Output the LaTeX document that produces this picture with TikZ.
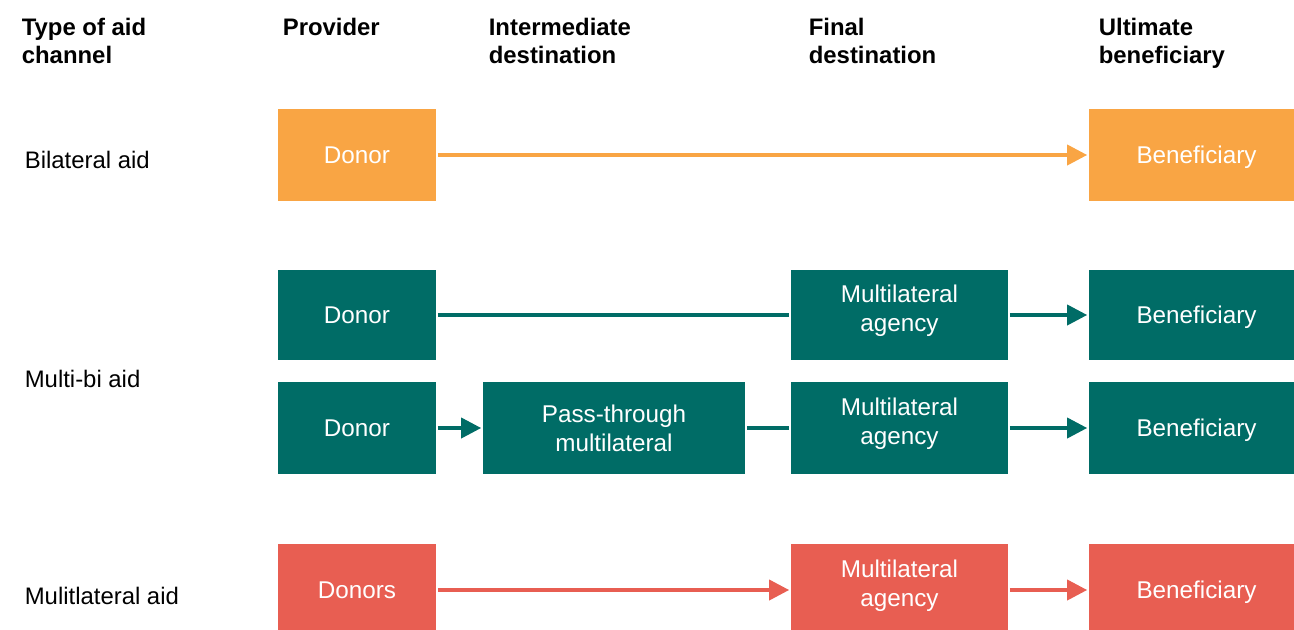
\documentclass[tikz,border=0pt]{standalone}
\usepackage{fontspec}
\setmainfont{Liberation Sans}
\usepackage{tikz}
\usetikzlibrary{arrows.meta,positioning}

\definecolor{aidorange}{RGB}{249,165,68}
\definecolor{aidteal}{RGB}{0,108,102}
\definecolor{aidred}{RGB}{232,94,82}

\begin{document}
\begin{tikzpicture}[x=0.02cm, y=-0.02cm,
	>={Triangle[length=0.4cm, width=0.4cm]}, line width=2.1pt,
	box/.style={rectangle, inner sep=0pt, text=white, align=center,
		minimum height=1.84cm, text depth=0pt,
		font=\fontsize{13.8}{16.6}\selectfont},
	donor/.style={box, minimum width=3.16cm},
	agency/.style={box, minimum width=4.34cm, text depth=8pt},
	pass/.style={box, minimum width=5.24cm},
	benef/.style={box, minimum width=4.3cm},
	head/.style={anchor=base west, inner sep=0pt, align=left,
		font=\bfseries\fontsize{13.6}{15.9}\selectfont},
	rowlabel/.style={anchor=base west, inner sep=0pt,
		font=\fontsize{13.6}{16}\selectfont}]
	\useasboundingbox (0,0) rectangle (1294,629);

	% Column headings (base is the last line)
	\node [head] (htype)  at (20,63)   {Type of aid\\channel};
	\node [head] (hprov)  at (281,35)  {Provider};
	\node [head] (hinter) at (487,63)  {Intermediate\\destination};
	\node [head] (hfinal) at (807,63)  {Final\\destination};
	\node [head] (hult)   at (1097,63) {Ultimate\\beneficiary};

	% Row labels
	\node [rowlabel] (lbil)   at (23,168) {Bilateral aid};
	\node [rowlabel] (lmb)    at (23,387) {Multi-bi aid};
	\node [rowlabel] (lmulti) at (23,604) {Mulitlateral aid};

	% Bilateral aid
	\node [donor, fill=aidorange] (d1) at (357,155)    {Donor};
	\node [benef, fill=aidorange] (b1) at (1196.5,155) {Beneficiary};

	% Multi-bi aid
	\node [donor, fill=aidteal, minimum height=1.8cm]  (d2) at (357,315)    {Donor};
	\node [agency, fill=aidteal, minimum height=1.8cm] (m2) at (899.5,315)  {Multilateral\\agency};
	\node [benef, fill=aidteal, minimum height=1.8cm]  (b2) at (1196.5,315) {Beneficiary};

	\node [donor, fill=aidteal]  (d3) at (357,428)    {Donor};
	\node [pass, fill=aidteal]   (p3) at (614,428)    {Pass-through\\multilateral};
	\node [agency, fill=aidteal] (m3) at (899.5,428)  {Multilateral\\agency};
	\node [benef, fill=aidteal]  (b3) at (1196.5,428) {Beneficiary};

	% Multilateral aid (boxes run past the bottom edge)
	\node [donor, fill=aidred]  (d4) at (357,590)    {Donors};
	\node [agency, fill=aidred] (m4) at (899.5,590)  {Multilateral\\agency};
	\node [benef, fill=aidred]  (b4) at (1196.5,590) {Beneficiary};

	% Paths
	\path [->, aidorange] (d1) edge (b1);
	\path [aidteal] (d2) edge (m2)
	                (p3) edge (m3);
	\path [->, aidteal] (m2) edge (b2)
	                    (d3) edge (p3)
	                    (m3) edge (b3);
	\path [->, aidred] (d4) edge (m4)
	                   (m4) edge (b4);
\end{tikzpicture}
\end{document}
